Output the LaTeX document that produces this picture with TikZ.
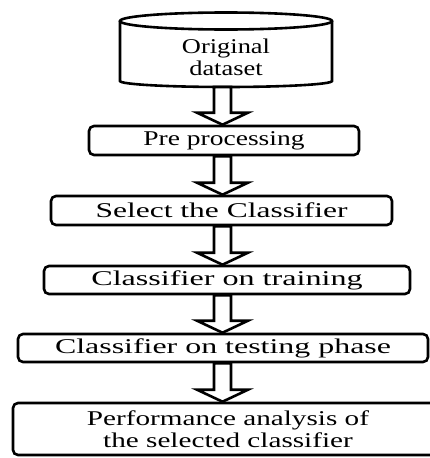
\documentclass[tikz,border=0pt]{standalone}
\usepackage{fontspec}
\setmainfont{Liberation Serif}
\usetikzlibrary{calc}
\newcommand{\sx}[2]{\scalebox{#1}[1]{#2}}
\newcommand{\blockarrow}[2]{\draw[hollow] ($(axis |- #1.south)+(-8.5,0)$) -- ($(axis |- #2.north)+(-8.5,-12)$) -- ++(-17,0) -- (axis |- #2.north) -- ++(25.5,-12) -- ++(-17,0) -- ($(axis |- #1.south)+(8.5,0)$) -- cycle;}
\tikzset{
	stage/.style={draw, line width=2.6pt, rounded corners=5pt, inner sep=0pt, align=center, font=\fontsize{21}{22}\selectfont},
	hollow/.style={draw, line width=2.6pt, fill=white, line join=miter},
}

\begin{document}
\begin{tikzpicture}[x=1pt, y=-1pt]
			%%%%% START %%%%%
			
			\useasboundingbox (0,0) rectangle (430,458);
			\clip (0,0) rectangle (430,458);
			\coordinate (axis) at (222.5,0);
			
			\draw[line width=2.6pt] (120,21) -- (120,81) arc[start angle=180, end angle=0, x radius=106, y radius=6] -- (332,21);
			\draw[line width=2.6pt] (226,21) ellipse [x radius=106, y radius=8.5];
			\node[align=center, inner sep=0pt, font=\fontsize{21}{22}\selectfont] (data) at (226,57.5) {\sx{1.26}{Original}\\\sx{1.26}{dataset}};
			\coordinate (dataend) at (226,87);
			
			\node[stage, minimum width=270pt, minimum height=29pt] (pre) at (224,140.5) {\sx{1.31}{Pre processing}};
			\node[stage, minimum width=341pt, minimum height=29pt] (select) at (221.5,210.5) {\sx{1.5}{Select the Classifier}};
			\node[stage, minimum width=366pt, minimum height=28pt] (train) at (227,280) {\sx{1.53}{Classifier on training}};
			\node[stage, minimum width=410pt, minimum height=28pt] (test) at (223,348) {\sx{1.52}{Classifier on testing phase}};
			\node[stage, minimum width=480pt, minimum height=52pt] (perf) at (253,429) {\hspace*{-50pt}\sx{1.39}{Performance analysis of}\\\hspace*{-50pt}\sx{1.39}{the selected classifier}};
			
			\blockarrow{dataend}{pre}
			\blockarrow{pre}{select}
			\blockarrow{select}{train}
			\blockarrow{train}{test}
			\blockarrow{test}{perf}
			
			%%%%% END %%%%%
\end{tikzpicture}
\end{document}
